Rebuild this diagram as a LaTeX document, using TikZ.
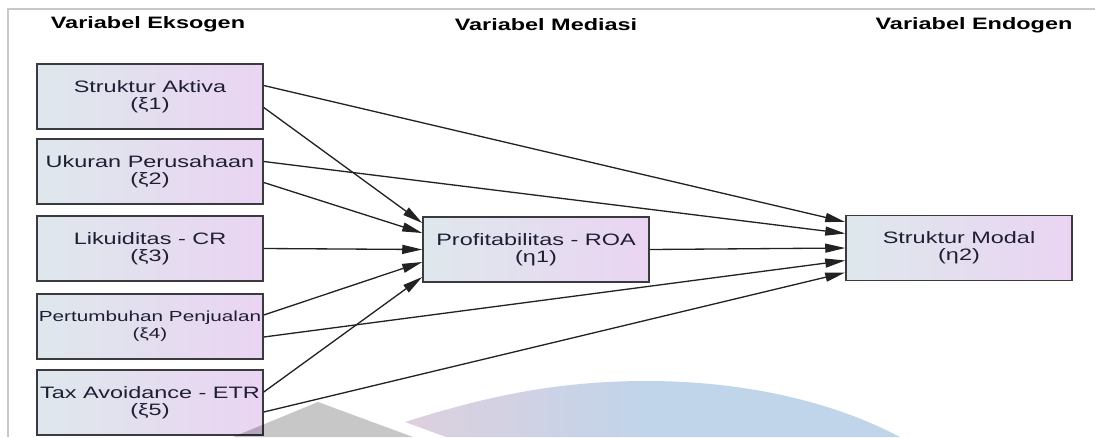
\documentclass[tikz,border=0pt]{standalone}
\usepackage{fontspec}
\setmainfont[FakeStretch=1.42]{Liberation Sans}
\usetikzlibrary{arrows.meta,positioning,calc}
\definecolor{semborder}{RGB}{58,58,64}
\definecolor{semline}{RGB}{34,34,34}
\definecolor{semblue}{RGB}{222,232,236}
\definecolor{semlav}{RGB}{234,212,242}
\definecolor{semtext}{RGB}{30,30,52}
\definecolor{semframe}{RGB}{200,200,200}
\definecolor{sempink}{RGB}{222,208,222}
\definecolor{semsky}{RGB}{192,212,234}

\begin{document}
\begin{tikzpicture}[
  x=0.02cm, y=-0.02cm,
  box/.style={rectangle, draw=semborder, line width=0.9pt, left color=semblue, right color=semlav, minimum width=4.52cm, minimum height=1.3cm, inner sep=0pt, align=center, text=semtext, font=\fontsize{9.4}{9.6}\selectfont},
  head/.style={inner sep=0pt, text=black, font=\bfseries\fontsize{9.4}{9.6}\selectfont},
  arrow/.style={-{Triangle[length=4mm,width=1.8mm]}, line width=0.75pt, semline}
]
\useasboundingbox (0,0) rectangle (1095,437);

% frame
\draw[semframe, line width=0.6pt] (8,437) -- (8,9) -- (1095,9);

% headings
\node[head] (hexo) at (148,24) {Variabel Eksogen};
\node[head] (hmed) at (546,25) {Variabel Mediasi};
\node[head] (hendo) at (974,25) {Variabel Endogen};

% exogenous side
\node[box] (aktiva) at (150,96.5) {Struktur Aktiva\\(ξ1)};
\node[box] (ukuran) at (150,171.5) {Ukuran Perusahaan\\(ξ2)};
\node[box] (likuid) at (150,248.5) {Likuiditas - CR\\(ξ3)};
\node[box, font=\fontsize{8.3}{9.6}\selectfont] (tumbuh) at (150,326.5) {Pertumbuhan Penjualan\\(ξ4)};
\node[box] (tax) at (150,402.5) {Tax Avoidance - ETR\\(ξ5)};

% mediation and endogenous
\node[box] (roa) at (536,249.5) {Profitabilitas - ROA\\(η1)};
\node[box] (modal) at (959,248) {Struktur Modal\\(η2)};

% paths
\draw[arrow] ([yshift=0.22cm]aktiva.east) -- ([yshift=0.52cm]modal.west);
\draw[arrow] ([yshift=-0.22cm]aktiva.east) -- ([yshift=0.53cm]roa.west);
\draw[arrow] ([yshift=0.2cm]ukuran.east) -- ([yshift=0.29cm]modal.west);
\draw[arrow] ([yshift=-0.22cm]ukuran.east) -- ([yshift=0.33cm]roa.west);
\draw[arrow] (likuid.east) -- (roa.west);
\draw[arrow] ([yshift=0.23cm]tumbuh.east) -- ([yshift=-0.25cm]roa.west);
\draw[arrow] ([yshift=-0.21cm]tumbuh.east) -- ([yshift=-0.25cm]modal.west);
\draw[arrow] ([yshift=0.21cm]tax.east) -- ([yshift=-0.55cm]roa.west);
\draw[arrow] ([yshift=-0.19cm]tax.east) -- ([yshift=-0.49cm]modal.west);
\draw[arrow] (roa.east) -- (modal.west);

% watermark
\fill[black, opacity=0.22] (233,437) -- (318,402) -- (413,437) -- cycle;
\shade[left color=sempink, right color=semsky, middle color=semsky]
  (446,437) -- (405,422) .. controls (490,395) and (560,381) .. (647,381)
  .. controls (740,381) and (830,400) .. (900,437) -- cycle;

\end{tikzpicture}
\end{document}
